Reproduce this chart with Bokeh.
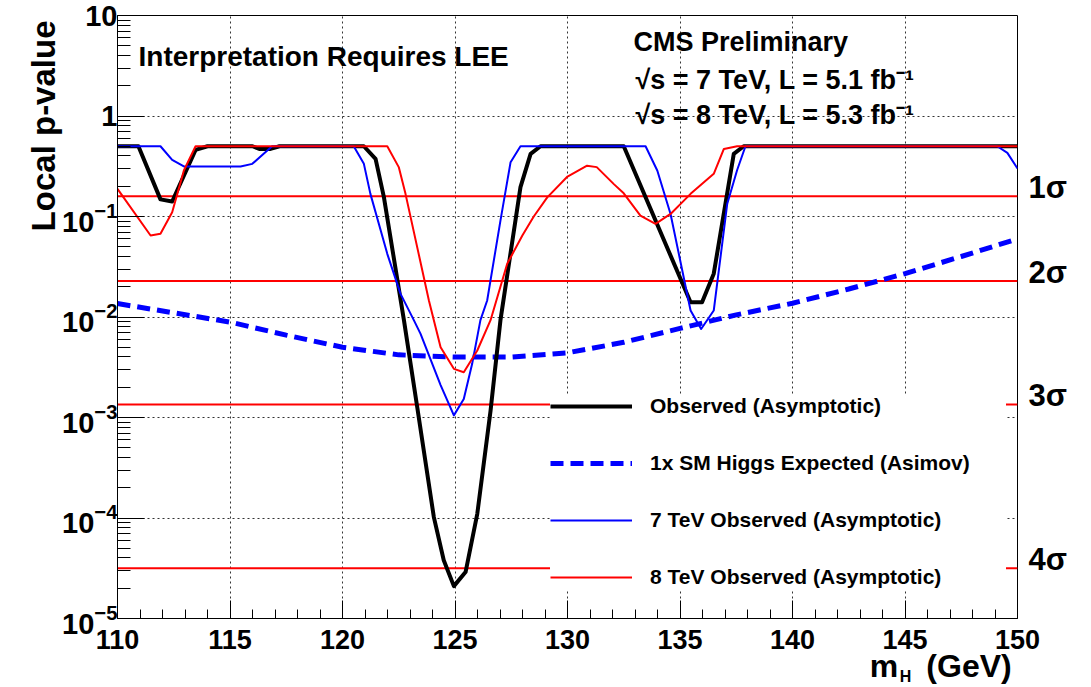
import math
from bokeh.plotting import figure
from bokeh.models import (Label, Legend, LegendItem, FixedTicker, LogAxis, LinearAxis,
                          CustomJSTickFormatter)
from bokeh.embed import file_html
from bokeh.resources import INLINE

# ---------------- data ----------------
obs_mass = [110, 110.93, 111.91, 112.43, 113.47, 114.0, 116.0, 116.3, 116.8, 117.2,
            120.95, 121.47, 121.84, 122.73, 123.32, 124.06, 124.5, 124.95, 125.47,
            125.99, 126.58, 127.02, 127.91, 128.36, 128.8, 132.5, 135.47, 135.98,
            136.5, 137.39, 137.83, 150]
obs_p = [0.5, 0.5, 0.148, 0.141, 0.46, 0.5, 0.5, 0.47, 0.47, 0.5,
         0.5, 0.375, 0.156, 0.0093, 1.27e-3, 1.02e-4, 3.8e-5, 2.1e-5, 2.9e-5,
         1.1e-4, 1.17e-3, 0.0093, 0.196, 0.42, 0.5, 0.5, 0.014, 0.014,
         0.027, 0.42, 0.5, 0.5]

exp_mass = [110, 112.5, 115, 117.5, 120, 122.5, 125, 127.5, 130, 132.5, 135,
            137.5, 140, 142.5, 145, 147.5, 150]
exp_p = [0.0136, 0.0110, 0.0089, 0.0066, 0.0050, 0.0042, 0.0040, 0.0040, 0.0044,
         0.0056, 0.0077, 0.0105, 0.0137, 0.019, 0.027, 0.040, 0.060]

tev7_mass = [110, 111.91, 112.43, 112.95, 115.47, 115.99, 116.87, 120.5, 120.95,
             121.24, 121.99, 122.58, 123.17, 123.47, 124.36, 124.95, 125.39, 125.76,
             126.13, 126.43, 127.02, 127.47, 127.91, 133.47, 133.99, 134.58, 135.47,
             135.94, 136.5, 137.1, 137.54, 137.91, 149.1, 149.55, 150]
tev7_p = [0.5, 0.5, 0.366, 0.315, 0.315, 0.334, 0.5, 0.5, 0.334,
          0.168, 0.0425, 0.017, 0.0093, 0.0068, 2.1e-3, 1.05e-3, 1.53e-3, 3.4e-3,
          0.0093, 0.0146, 0.091, 0.347, 0.5, 0.5, 0.287, 0.106, 0.0116,
          0.0076, 0.0116, 0.134, 0.29, 0.5, 0.5, 0.43, 0.30]

tev8_mass = [110, 111.47, 111.91, 112.43, 112.95, 113.47, 121.99, 122.5, 122.8,
             123.84, 124.36, 124.95, 125.39, 125.99, 126.58, 127.32, 128.0, 128.5,
             129.1, 130.0, 130.87, 131.3, 132.06, 132.5, 133.24, 133.91, 134.58,
             135.47, 136.5, 136.95, 137.54, 150]
tev8_p = [0.188, 0.0647, 0.0672, 0.11, 0.287, 0.5, 0.5, 0.31, 0.168,
          0.0146, 0.005, 0.00305, 0.00282, 0.00464, 0.0093, 0.0339, 0.065, 0.10,
          0.155, 0.25, 0.32, 0.31, 0.21, 0.17, 0.102, 0.0845, 0.106,
          0.168, 0.266, 0.47, 0.5, 0.5]

sigma_names = ["1σ", "2σ", "3σ", "4σ"]
sigma_p = [0.1587, 0.02275, 0.00135, 3.167e-5]

x_ticks = [110, 115, 120, 125, 130, 135, 140, 145, 150]
y_exponents = [-5, -4, -3, -2, -1, 0, 1]

legend_labels = ["Observed (Asymptotic)", "1x SM Higgs Expected (Asimov)",
                 "7 TeV Observed (Asymptotic)", "8 TeV Observed (Asymptotic)"]

y_title = "Local p-value"
x_title_parts = ["m", "(GeV)"]
x_title_sub = "H"

# ---------------- layout ----------------
W, H = 1091, 687
BL, BR, BT, BB = 117, 74, 15, 69
X0, X1 = 110, 150
E0, E1 = -5, 1
FW = W - BL - BR
FH = H - BT - BB
FONT = "Liberation Sans"


def m_at(px):
    return X0 + (px - BL) * (X1 - X0) / FW


def p_at(py):
    return 10 ** (E0 + (H - BB - py) * (E1 - E0) / FH)


def py_of(p):
    return (H - BB) - (math.log10(p) - E0) * FH / (E1 - E0)


p = figure(width=W, height=H, x_range=(X0, X1), y_range=(10 ** E0, 10 ** E1),
           y_axis_type="log", output_backend="svg", toolbar_location=None)
p.min_border_left = BL
p.min_border_right = BR
p.min_border_top = BT
p.min_border_bottom = BB
p.background_fill_color = "white"
p.border_fill_color = "white"
p.outline_line_color = "black"
p.outline_line_width = 1

# ticks
xminor = [v for v in range(X0, X1 + 1) if v not in x_ticks]
xt = FixedTicker(ticks=x_ticks, minor_ticks=xminor)
yt = FixedTicker(ticks=[10.0 ** e for e in y_exponents],
                 minor_ticks=[k * 10.0 ** e for e in y_exponents[:-1] for k in range(2, 10)])
p.xaxis.ticker = xt
p.yaxis.ticker = yt
p.xgrid.ticker = xt
p.ygrid.ticker = yt


def style_text_axis(ax, size, standoff):
    ax.major_label_text_font = FONT
    ax.major_label_text_font_style = "bold"
    ax.major_label_text_font_size = size
    ax.major_label_text_color = "black"
    ax.major_label_standoff = standoff


for ax in (p.xaxis[0], p.yaxis[0]):
    ax.axis_line_color = "black"
    ax.axis_line_width = 1
    ax.major_tick_line_color = "black"
    ax.minor_tick_line_color = "black"
    ax.major_tick_out = 0
    ax.minor_tick_out = 0
p.xaxis.major_tick_in = 18
p.xaxis.minor_tick_in = 9
p.yaxis.major_tick_in = 27
p.yaxis.minor_tick_in = 13
style_text_axis(p.xaxis[0], "27px", 11)
style_text_axis(p.yaxis[0], "29px", 0)
p.yaxis.major_label_overrides = {1.0: "1", 10.0: "10", "1": "1", "10": "10"}

for g in (p.xgrid[0], p.ygrid[0]):
    g.grid_line_color = "#333333"
    g.grid_line_dash = "2 3"
    g.grid_line_width = 1


def text_axis(kind, ticks, names, size, standoff, side, angle=None):
    fmt = CustomJSTickFormatter(
        args=dict(vals=ticks, names=names, lg=(kind == "log")),
        code="""
            const f = (v) => lg ? Math.log10(v) : v;
            let best = 0;
            for (let i = 0; i < vals.length; i++) {
                if (Math.abs(f(vals[i]) - f(tick)) < Math.abs(f(vals[best]) - f(tick))) best = i;
            }
            return names[best];
        """)
    if kind == "log":
        ax = LogAxis(ticker=FixedTicker(ticks=ticks, minor_ticks=[]), formatter=fmt)
    else:
        ax = LinearAxis(ticker=FixedTicker(ticks=ticks, minor_ticks=[]), formatter=fmt)
    ax.axis_line_color = None
    ax.major_tick_line_color = None
    ax.minor_tick_line_color = None
    ax.major_tick_in = 0
    ax.major_tick_out = 0
    ax.minor_tick_in = 0
    ax.minor_tick_out = 0
    style_text_axis(ax, size, standoff)
    if angle is not None:
        ax.major_label_orientation = angle
    p.add_layout(ax, side)
    return ax


# y title (rotated) as an extra left axis
text_axis("log", [p_at(20)], [y_title], "33px", 16, "left", angle=math.pi / 2)
# sigma labels on the right
text_axis("log", [p_at(py_of(s) - 9) for s in sigma_p], sigma_names, "31px", 11, "right")
# x title: "m" and "(GeV)", then the subscript "H"
text_axis("linear", [m_at(883.5), m_at(968.5)], x_title_parts, "32px", -4, "below")
text_axis("linear", [m_at(905)], [x_title_sub], "16px", -19, "below")

# sigma lines
for sp in sigma_p:
    p.line([X0, X1], [sp, sp], line_color="#ff0000", line_width=2)

r_exp = p.line(exp_mass, exp_p, line_color="#0000ff", line_width=5, line_dash="13 7")
r_obs = p.line(obs_mass, obs_p, line_color="black", line_width=4, line_join="round")
r_7 = p.line(tev7_mass, tev7_p, line_color="#0000ff", line_width=2, line_join="round")
r_8 = p.line(tev8_mass, tev8_p, line_color="#ff0000", line_width=2, line_join="round")

legend = Legend(items=[LegendItem(label=legend_labels[0], renderers=[r_obs]),
                       LegendItem(label=legend_labels[1], renderers=[r_exp]),
                       LegendItem(label=legend_labels[2], renderers=[r_7]),
                       LegendItem(label=legend_labels[3], renderers=[r_8])],
                location=(433, 29), background_fill_color="white", background_fill_alpha=1.0,
                border_line_color=None, glyph_width=82, glyph_height=24, label_height=24,
                label_width=356, label_standoff=18, spacing=33, padding=20, margin=0,
                label_text_font=FONT, label_text_font_style="bold",
                label_text_font_size="21px", label_text_color="black")
p.add_layout(legend)


def add_label(px, py, text, size):
    p.add_layout(Label(x=m_at(px), y=p_at(py), text=text, text_font=FONT,
                       text_font_style="bold", text_font_size=size, text_color="black",
                       text_align="left", text_baseline="alphabetic"))


# header texts (baseline pixel rows, corrected for Bokeh's label placement)
add_label(138, 56, "Interpretation Requires LEE", "28px")
add_label(633, 41, "CMS Preliminary", "27px")
add_label(635, 79, "√s = 7 TeV, L = 5.1 fb⁻¹", "27px")
add_label(635, 114, "√s = 8 TeV, L = 5.3 fb⁻¹", "27px")

open("out.html", "w").write(file_html(p, INLINE))
